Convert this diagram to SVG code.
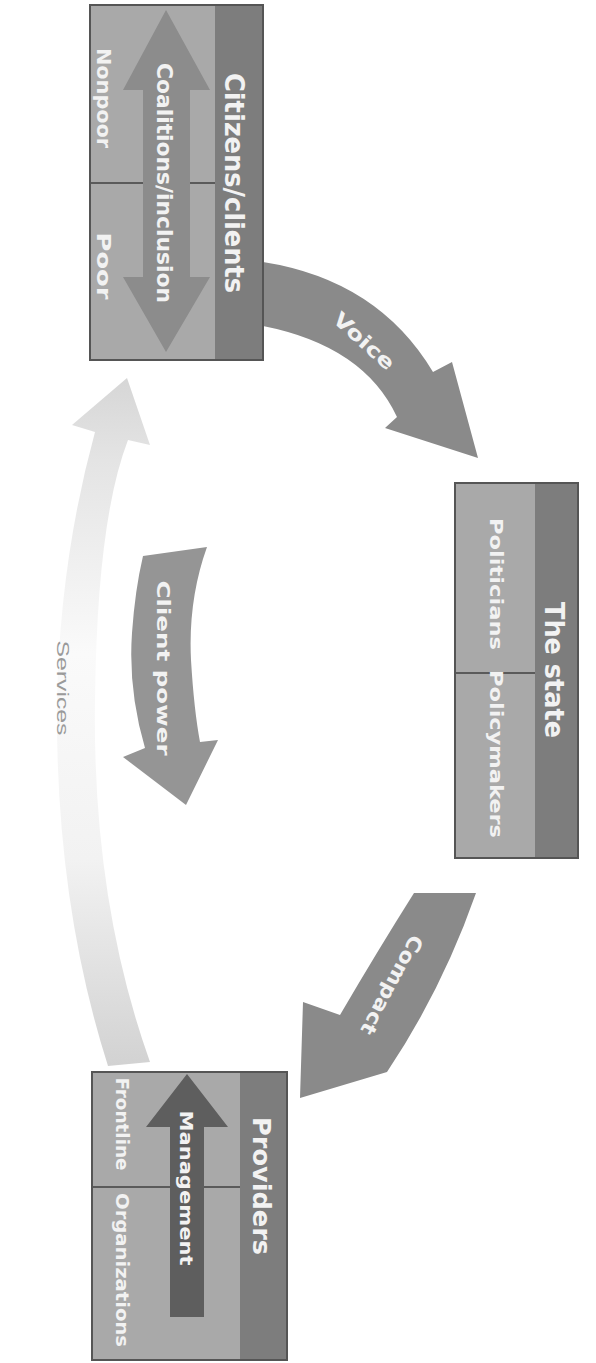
<svg xmlns="http://www.w3.org/2000/svg" width="596" height="1363" viewBox="0 0 596 1363">
<defs>
<style>
.box{stroke:#555;stroke-width:2}
.body{fill:#a9a9a9}
.head{fill:#7d7d7d}
.div{stroke:#5a5a5a;stroke-width:2}
.t{font-family:"Liberation Sans Narrow","DejaVu Sans Condensed","Liberation Sans",sans-serif;font-weight:bold;fill:#f2f2f2;text-anchor:middle;dominant-baseline:central}
.arr{fill:#8a8a8a}
.svc{font-family:"Liberation Sans","DejaVu Sans",sans-serif;fill:#9a9a9a;text-anchor:middle;dominant-baseline:central}
</style>
<linearGradient id="sg" x1="0" y1="0" x2="0" y2="1">
<stop offset="0" stop-color="#d6d6d6"/>
<stop offset="0.12" stop-color="#e4e4e4"/>
<stop offset="0.4" stop-color="#fafafa"/>
<stop offset="0.7" stop-color="#f2f2f2"/>
<stop offset="1" stop-color="#d2d2d2"/>
</linearGradient>
</defs>

<g id="connectors">
<path id="services" d="M150,1062 Q92,900 95,700 Q97,520 128,440 L150,445 L127,378 L72,425 L95,432 Q60,560 57,700 Q55,900 108,1066 Z" fill="url(#sg)"/>
<text class="svc" font-size="17" transform="translate(62,688) rotate(90)" textLength="95" lengthAdjust="spacingAndGlyphs">Services</text>
<path id="voice" class="arr" d="M263,262 Q378,280 433,372 L452,362 L478,458 L385,428 L397,417 Q364,346 263,326 Z"/>
<text class="t" font-size="20" transform="translate(364,341) rotate(42)" textLength="75" lengthAdjust="spacingAndGlyphs">Voice</text>
<path id="compact" class="arr" d="M414,893 L476,893 Q442,990 387,1072 L300,1098 L303,1002 L340,1015 Q378,950 414,893 Z"/>
<text class="t" font-size="20" transform="translate(392,985) rotate(118)" textLength="110" lengthAdjust="spacingAndGlyphs">Compact</text>
<path id="clientpower" fill="#959595" d="M143,556 L207,547 Q188,600 191,660 Q194,710 200,742 L218,740 L186,805 L123,757 L145,748 Q128,690 132,633 Q135,590 143,556 Z"/>
<text class="t" font-size="18" transform="translate(163,668) rotate(90)" textLength="175" lengthAdjust="spacingAndGlyphs">Client power</text>
</g>

<g id="citizens">
<rect class="box body" x="90" y="5" width="173" height="355"/>
<rect class="head" x="215" y="6" width="47" height="353"/>
<line class="div" x1="91" y1="183" x2="215" y2="183"/>
<path fill="#8c8c8c" d="M166,10 L210,90 L190,90 L190,277 L210,277 L166,352 L123,277 L143,277 L143,90 L123,90 Z"/>
<text class="t" font-size="26" transform="translate(234,183) rotate(90)" textLength="220" lengthAdjust="spacingAndGlyphs">Citizens/clients</text>
<text class="t" font-size="22" transform="translate(164,183) rotate(90)" textLength="240" lengthAdjust="spacingAndGlyphs">Coalitions/inclusion</text>
<text class="t" font-size="19" transform="translate(104,98) rotate(90)" textLength="100" lengthAdjust="spacingAndGlyphs">Nonpoor</text>
<text class="t" font-size="19" transform="translate(104,266) rotate(90)" textLength="67" lengthAdjust="spacingAndGlyphs">Poor</text>
</g>

<g id="state">
<rect class="box body" x="455" y="483" width="123" height="375"/>
<rect class="head" x="535" y="484" width="42" height="373"/>
<line class="div" x1="456" y1="673" x2="535" y2="673"/>
<text class="t" font-size="26" transform="translate(554,670) rotate(90)" textLength="136" lengthAdjust="spacingAndGlyphs">The state</text>
<text class="t" font-size="18" transform="translate(496,584) rotate(90)" textLength="132" lengthAdjust="spacingAndGlyphs">Politicians</text>
<text class="t" font-size="18" transform="translate(496,754) rotate(90)" textLength="168" lengthAdjust="spacingAndGlyphs">Policymakers</text>
</g>

<g id="providers">
<rect class="box body" x="92" y="1072" width="195" height="288"/>
<rect class="head" x="240" y="1073" width="46" height="286"/>
<line class="div" x1="93" y1="1187" x2="240" y2="1187"/>
<path fill="#5e5e5e" d="M187,1074 L228,1127 L204,1127 L204,1317 L170,1317 L170,1127 L146,1127 Z"/>
<text class="t" font-size="24" transform="translate(261,1186) rotate(90)" textLength="138" lengthAdjust="spacingAndGlyphs">Providers</text>
<text class="t" font-size="18" transform="translate(186,1188) rotate(90)" textLength="155" lengthAdjust="spacingAndGlyphs">Management</text>
<text class="t" font-size="18" transform="translate(122,1124) rotate(90)" textLength="93" lengthAdjust="spacingAndGlyphs">Frontline</text>
<text class="t" font-size="18" transform="translate(122,1270) rotate(90)" textLength="154" lengthAdjust="spacingAndGlyphs">Organizations</text>
</g>
</svg>
